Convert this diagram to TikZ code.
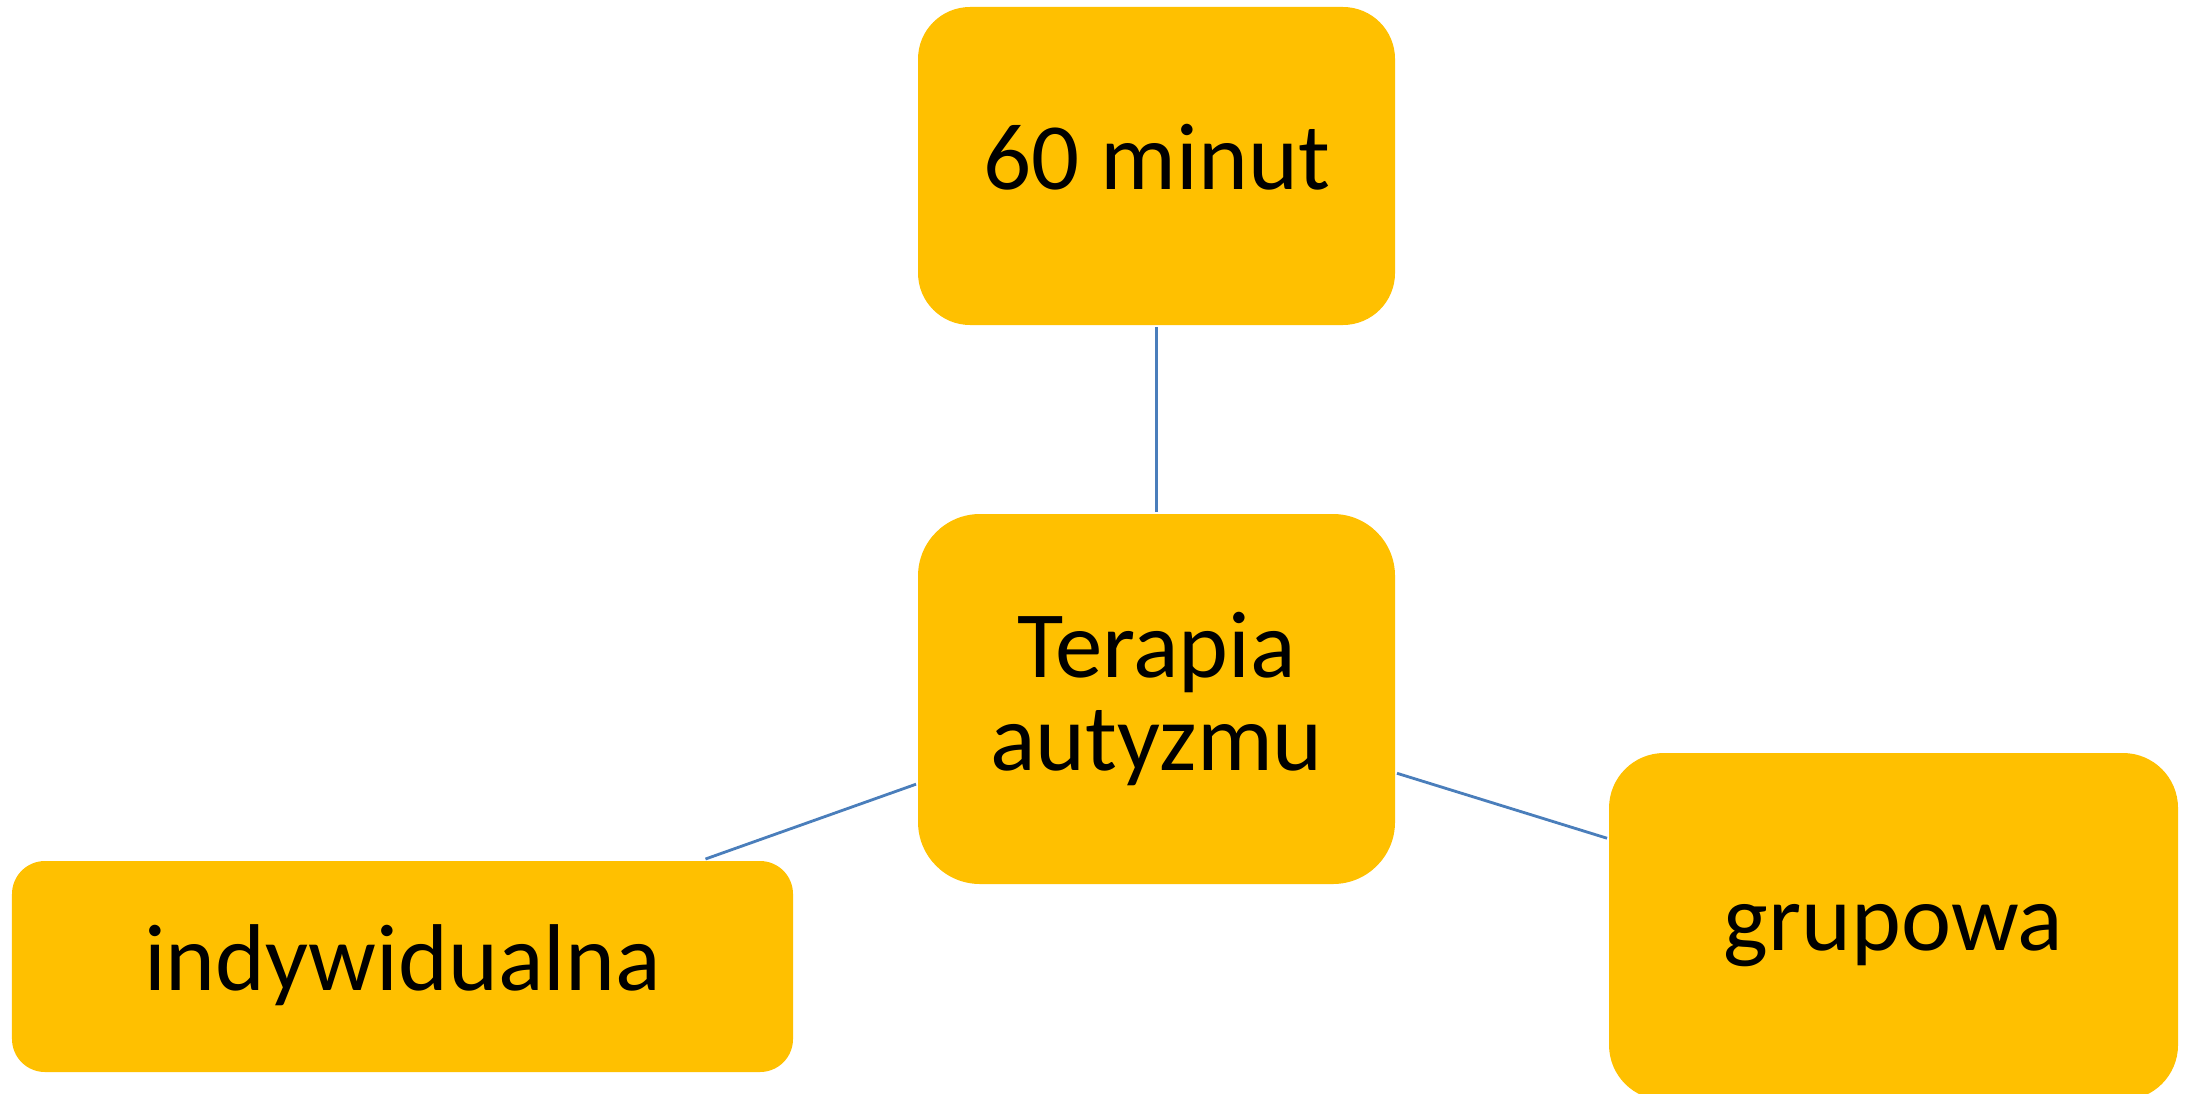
\documentclass[tikz,border=0pt]{standalone}
\usepackage{fontspec}
\setmainfont{Carlito}
\definecolor{zloty}{RGB}{255,192,0}
\definecolor{niebieski}{RGB}{74,126,187}

\begin{document}
\begin{tikzpicture}
    [%%%%%%%%%%%%%%%%%%%%%%%%%%%%%%
        box/.style={rectangle,fill=zloty,text=black,inner sep=0pt,outer sep=0.02cm,
                    font=\fontsize{27}{26.7}\selectfont},
        jeden/.style={text height=0.665cm,text depth=0.19cm},
        lacznik/.style={draw=niebieski,line width=0.8pt},
    ]%%%%%%%%%%%%%%%%%%%%%%%%%%%%%%

\useasboundingbox (0,0) rectangle (21.92,10.93);

\node[box,jeden,minimum width=4.77cm,minimum height=3.18cm,rounded corners=0.52cm] (minut) at (11.565,9.27){60 minut};
\node[box,align=center,minimum width=4.77cm,minimum height=3.70cm,rounded corners=0.62cm] (terapia) at (11.565,3.94){Terapia\\autyzmu};
\node[box,jeden,minimum width=7.81cm,minimum height=2.11cm,rounded corners=0.33cm] (indyw) at (4.025,1.265){indywidualna};
\node[box,jeden,minimum width=5.69cm,minimum height=3.47cm,rounded corners=0.55cm] (grupa) at (18.935,1.665){grupowa};

\draw[lacznik] (terapia) -- (minut);
\draw[lacznik] (terapia) -- (indyw);
\draw[lacznik] (terapia) -- (grupa);
\end{tikzpicture}
\end{document}
